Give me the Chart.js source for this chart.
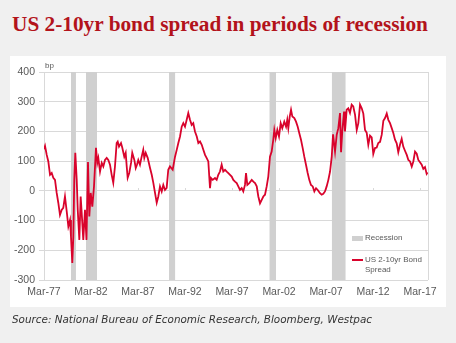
<!DOCTYPE html>
<html><head><meta charset="utf-8">
<script src="https://cdn.jsdelivr.net/npm/chart.js@4/dist/chart.umd.min.js"></script>
<style>
html,body{margin:0;padding:0;background:#f0f0f0;width:456px;height:343px;overflow:hidden;}
#panel{position:absolute;left:10px;top:56px;width:436px;height:251px;background:#fff;}
#title{position:absolute;left:12px;top:12px;font:bold 21.3px "Liberation Serif",serif;color:#b3131b;white-space:nowrap;}
#source{position:absolute;left:12px;top:313px;font:oblique 10.4px "DejaVu Sans",sans-serif;color:#333;white-space:nowrap;}
canvas{position:absolute;left:0;top:0;}
.leg{position:absolute;font:8px "Liberation Sans",Arial,sans-serif;color:#595959;line-height:10px;white-space:nowrap;}
.sw{position:absolute;}
</style></head>
<body>
<div id="panel"></div>
<div id="title">US 2-10yr bond spread in periods of recession</div>
<canvas id="c" width="456" height="343"></canvas>
<div class="leg" style="left:45px;top:61px;">bp</div>
<div class="sw" style="left:352px;top:236px;width:11px;height:5px;background:#d0d0d0;"></div>
<div class="leg" style="left:365px;top:233px;">Recession</div>
<div class="sw" style="left:352px;top:259px;width:11px;height:2px;background:#d9032c;"></div>
<div class="leg" style="left:365px;top:255px;">US 2-10yr Bond<br>Spread</div>
<div id="source">Source: National Bureau of Economic Research, Bloomberg, Westpac</div>
<script>
// Decimal years of observations and US 2-10yr spread (bp)
const years = [1977.17,1977.28,1977.46,1977.63,1977.81,1977.99,1978.16,1978.34,1978.52,1978.69,1978.87,1979.05,1979.22,1979.40,1979.59,1979.76,1979.94,1980.04,1980.18,1980.29,1980.39,1980.50,1980.65,1980.76,1980.93,1981.07,1981.18,1981.35,1981.53,1981.69,1981.85,1981.99,1982.14,1982.31,1982.49,1982.70,1982.84,1982.95,
1983.13,1983.31,1983.48,1983.66,1983.84,1984.01,1984.19,1984.37,1984.54,1984.72,1984.90,1985.01,1985.15,1985.36,1985.50,1985.71,1985.86,1985.97,1986.07,1986.24,1986.43,1986.56,1986.78,1986.93,1987.06,1987.20,1987.38,1987.56,1987.73,1987.84,1987.99,1988.20,1988.45,1988.63,1988.80,1988.98,1989.16,1989.33,1989.51,1989.69,1989.86,1990.04,1990.22,1990.39,1990.57,1990.86,
1991.11,1991.29,1991.46,1991.64,1991.82,1991.99,1992.17,1992.35,1992.52,1992.70,1992.88,1993.05,1993.23,1993.42,1993.59,1993.77,1993.95,1994.12,1994.30,1994.48,1994.65,1994.83,1994.94,1995.12,1995.36,1995.54,1995.71,1995.89,1996.07,1996.24,1996.43,1996.61,1996.78,1996.96,1997.14,1997.31,1997.49,1997.67,1997.84,1998.02,1998.20,1998.37,1998.55,1998.66,1998.80,1999.01,1999.27,1999.44,1999.62,1999.80,1999.97,
2000.15,2000.33,2000.50,2000.68,2000.86,2001.03,2001.21,2001.39,2001.56,2001.67,2001.82,2001.99,2002.17,2002.35,2002.52,2002.73,2002.92,2003.05,2003.16,2003.31,2003.45,2003.59,2003.80,2003.98,2004.16,2004.33,2004.51,2004.69,2004.86,2005.04,2005.22,2005.39,2005.57,2005.76,2005.93,2006.11,2006.29,2006.53,2006.71,2006.88,2007.06,2007.24,2007.42,2007.60,2007.78,2007.92,
2008.13,2008.31,2008.48,2008.66,2008.77,2008.90,2009.09,2009.19,2009.37,2009.54,2009.72,2009.90,2010.07,2010.26,2010.44,2010.61,2010.79,2010.97,2011.14,2011.32,2011.50,2011.67,2011.85,2012.03,2012.20,2012.38,2012.56,2012.73,2012.92,2013.10,2013.27,2013.45,2013.63,2013.80,2013.98,2014.16,2014.33,2014.51,2014.69,2014.86,2015.04,2015.22,2015.39,2015.57,2015.76,2015.93,2016.11,2016.29,2016.46,2016.64,2016.82,2016.99,2017.17,2017.35,2017.52,2017.70,2017.88,2017.99];
const spread = [140,151,121,99,54,60,44,37,-7,-40,-81,-64,-57,-19,-70,-120,-98,-154,-243,-154,37,128,37,-64,-165,-19,-74,-165,-64,-165,97,-86,-7,-53,15,145,94,110,
65,94,82,104,111,104,88,54,27,82,161,166,149,161,145,115,128,82,44,60,94,128,104,77,88,104,88,115,138,111,128,111,77,54,27,-7,-40,-19,15,-2,20,3,10,71,82,71,
115,138,161,183,216,228,216,239,262,239,222,228,200,183,161,166,155,138,121,110,99,9,43,37,43,37,54,65,88,65,71,65,60,54,48,37,31,26,15,3,9,-2,20,60,20,26,37,31,26,15,-19,
-42,-30,-19,-13,15,48,115,132,172,205,177,205,183,228,211,233,216,239,211,250,273,250,245,233,216,194,172,144,115,88,60,37,20,15,-2,9,3,-8,-13,-10,-2,15,37,65,115,190,
132,189,211,262,130,200,267,200,273,278,262,290,284,256,205,228,290,278,260,205,195,155,186,180,124,144,146,161,165,189,236,245,260,239,228,211,195,172,160,130,155,175,149,135,121,104,99,82,99,132,125,104,96,88,74,80,57,62];
// NBER recession periods (decimal years)
const recStart = [1980.04, 1981.64, 1990.47, 2001.14, 2007.78];
const recEnd   = [1980.57, 1982.81, 1991.14, 2001.85, 2009.27];
// x-axis ticks
const tickYears  = [1977.17,1982.17,1987.17,1992.17,1997.17,2002.17,2007.17,2012.17,2017.17];
const tickLabels = ['Mar-77','Mar-82','Mar-87','Mar-92','Mar-97','Mar-02','Mar-07','Mar-12','Mar-17'];
const yMin = -300, yMax = 400;

const recessionSets = recStart.map((s,i)=>({
  type:'line', label:'Recession',
  data:[{x:s,y:yMax},{x:recEnd[i],y:yMax}],
  fill:'start', backgroundColor:'#d0d0d0', borderWidth:0, pointRadius:0, order:2
}));

const frame = {
  id:'frame',
  beforeDatasetsDraw(chart){
    const {ctx, chartArea:a, scales:{x,y}} = chart;
    ctx.save(); ctx.strokeStyle='#d9d9d9'; ctx.lineWidth=1;
    ctx.beginPath();
    ctx.moveTo(Math.round(a.right)+0.5, a.top); ctx.lineTo(Math.round(a.right)+0.5, a.bottom);
    const y0 = Math.round(y.getPixelForValue(0));
    tickYears.forEach(v=>{const px=Math.round(x.getPixelForValue(v))+0.5; ctx.moveTo(px,y0-3); ctx.lineTo(px,y0);});
    ctx.stroke(); ctx.restore();
  }
};

const font = {family:'"Liberation Sans", Arial, sans-serif', size:10.5};
new Chart(document.getElementById('c'), {
  type:'line',
  data:{datasets:[
    {label:'US 2-10yr Bond Spread', data:years.map((x,i)=>({x, y:spread[i]})),
     borderColor:'#d9032c', borderWidth:1.8, pointRadius:0, tension:0, fill:false, order:1},
    ...recessionSets
  ]},
  options:{
    responsive:false, animation:false, devicePixelRatio:1,
    layout:{padding:{top:72,right:28,bottom:0,left:0}},
    plugins:{legend:{display:false}, tooltip:{enabled:false}},
    scales:{
      x:{type:'linear', min:1977.17, max:2018.02,
         afterBuildTicks:s=>{s.ticks = tickYears.map(v=>({value:v}));},
         afterFit:s=>{s.height=63;},
         grid:{display:false, drawTicks:false}, border:{display:false},
         ticks:{autoSkip:false, maxRotation:0, padding:6, color:'#595959', font, callback:(v,i)=>tickLabels[i]}},
      y:{min:yMin, max:yMax,
         afterFit:s=>{s.width=44;},
         ticks:{stepSize:100, padding:4, color:'#595959', font},
         grid:{color:'#d9d9d9', tickLength:5}, border:{color:'#d9d9d9'}}
    }
  },
  plugins:[frame]
});
</script>
</body></html>
